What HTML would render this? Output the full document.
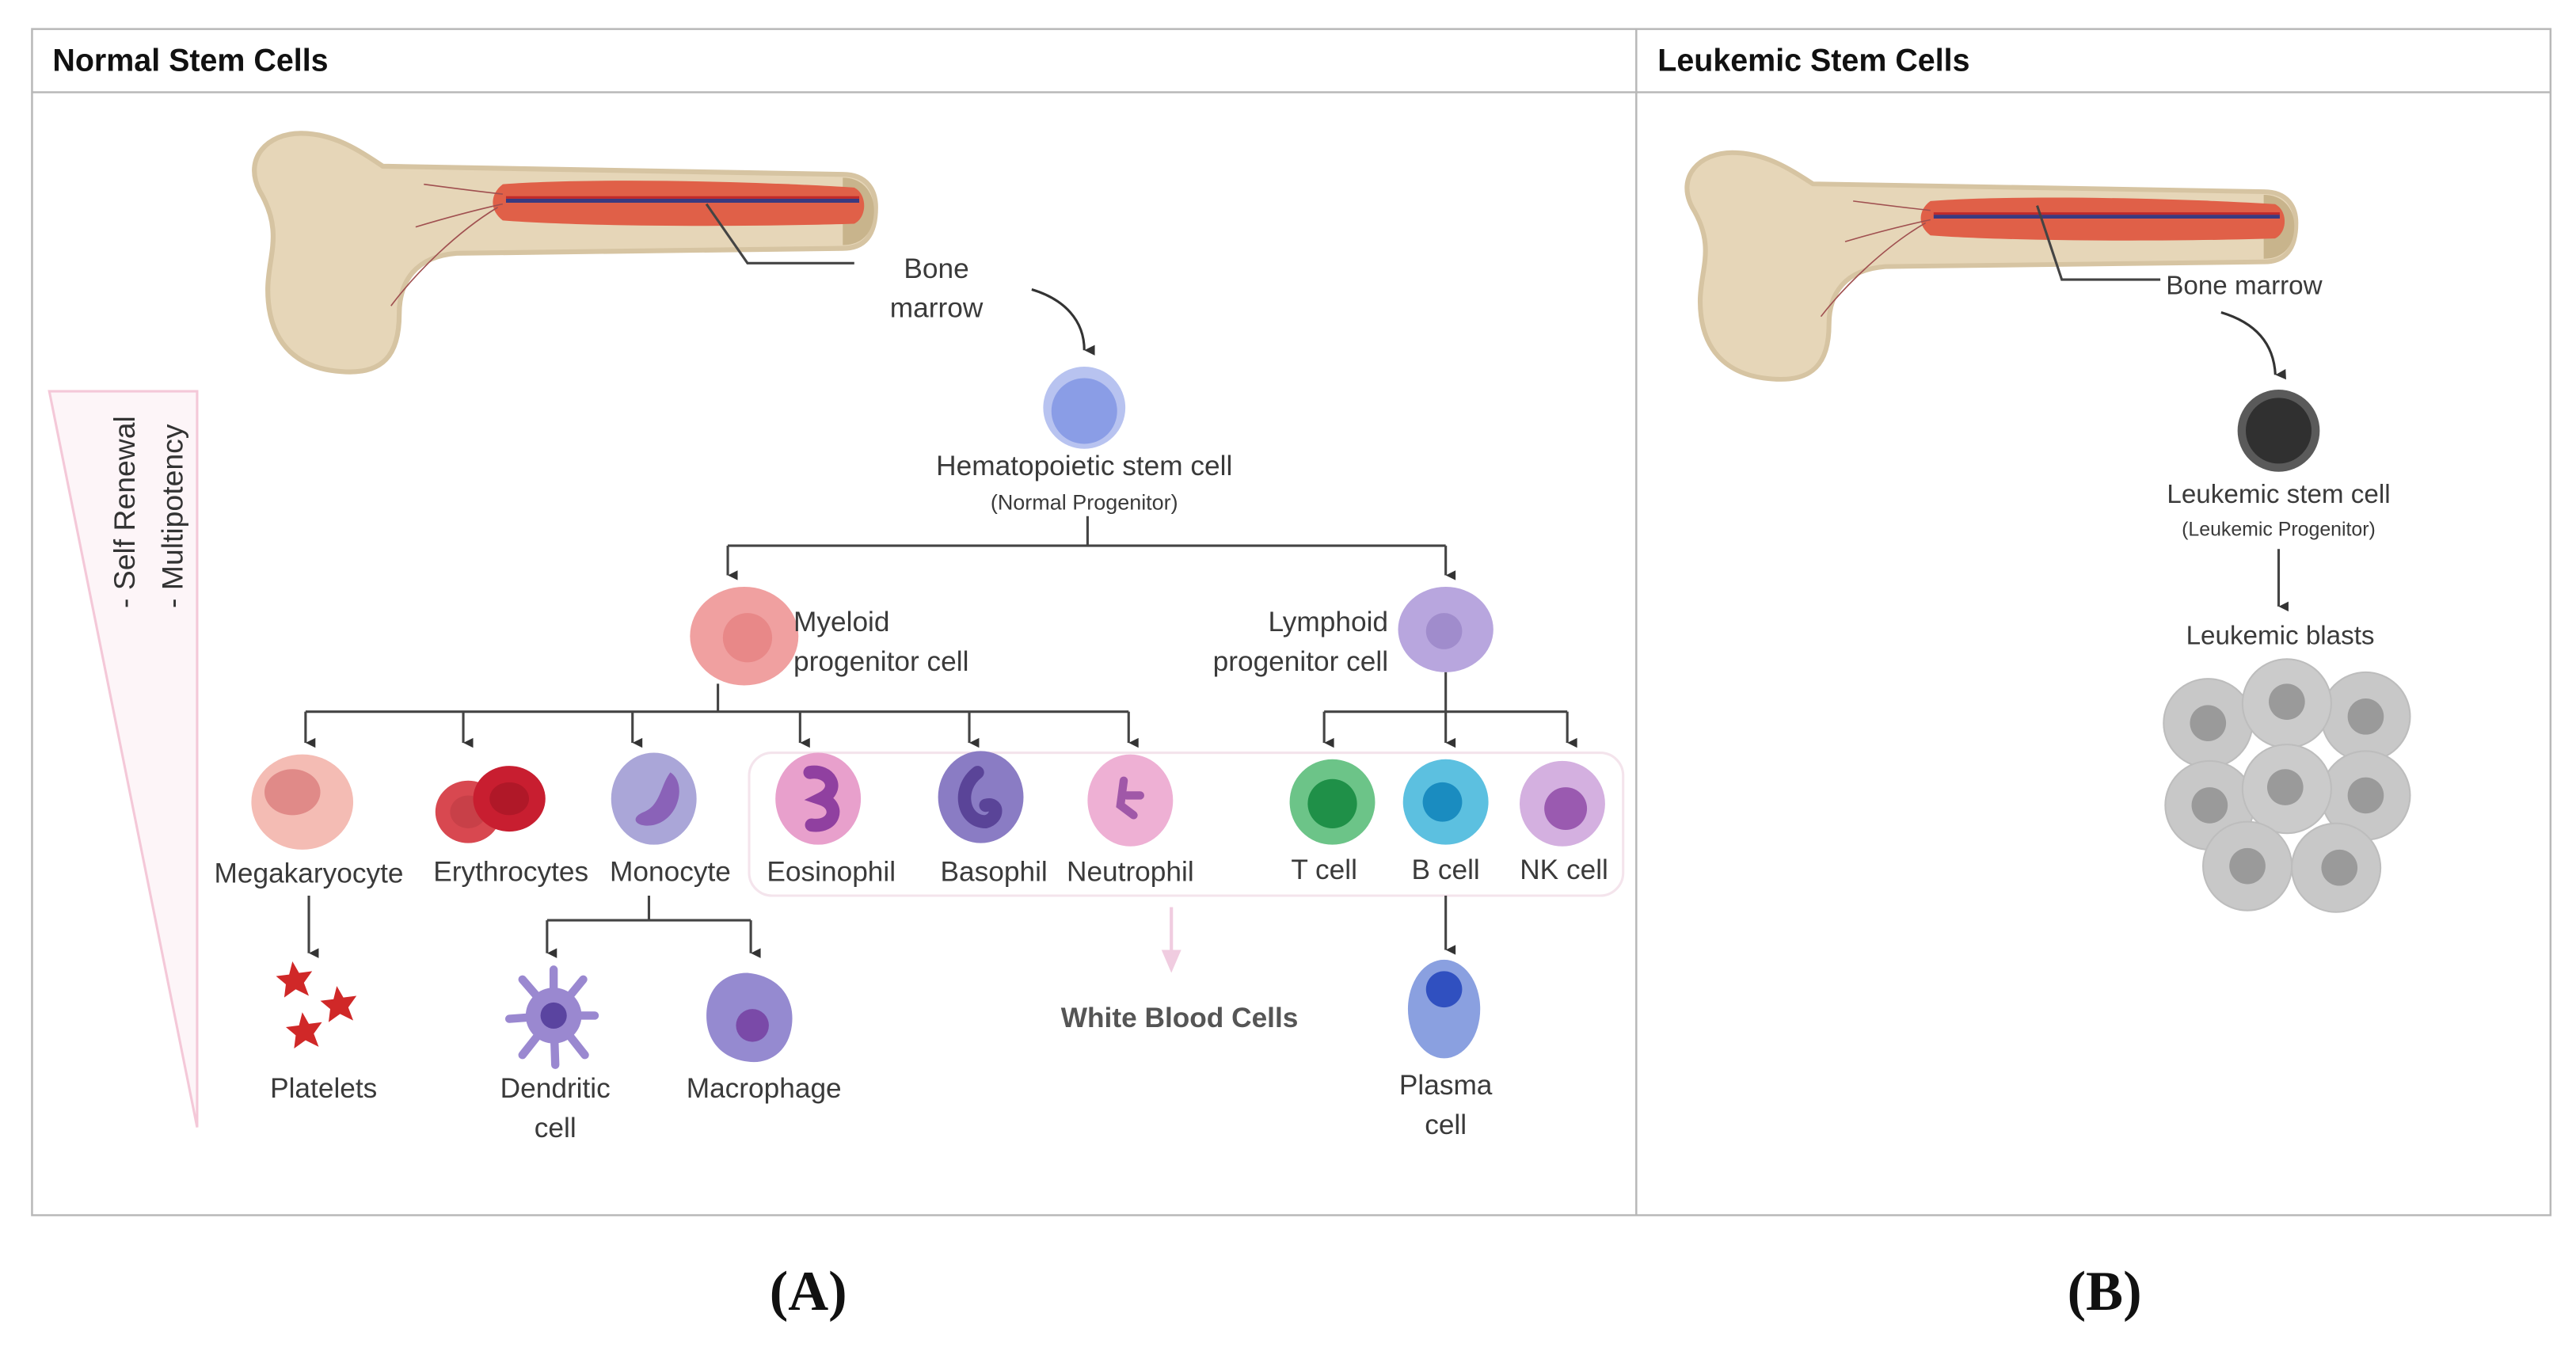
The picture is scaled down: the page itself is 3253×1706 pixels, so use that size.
<!DOCTYPE html>
<html><head><meta charset="utf-8"><style>
html,body{margin:0;padding:0;background:#fff;}
svg{display:block;}
text{font-family:"Liberation Sans",sans-serif;fill:#3a3a3a;}
</style></head><body>
<svg width="3253" height="1706" viewBox="0 0 1568 822" xmlns="http://www.w3.org/2000/svg">
<defs>
<marker id="ar" markerWidth="8" markerHeight="8" refX="4" refY="7" orient="auto" markerUnits="userSpaceOnUse"><path d="M1,1 L4,7 L7,1 Z" fill="#333"/></marker>
<marker id="ar2" viewBox="0 0 10 10" markerWidth="8" markerHeight="8" refX="5" refY="9" orient="auto-start-reverse" markerUnits="userSpaceOnUse"><path d="M1,1 L5,9 L9,1 Z" fill="#333"/></marker>
<g id="bone">
<path d="M0,40 C-10,20 5,5 25,5 C45,5 60,15 75,25 L355,30 C370,30 375,40 375,50 C375,65 370,75 355,75 L120,78 C95,80 85,95 85,115 C85,140 75,152 50,150 C20,148 5,130 5,100 C5,80 15,65 0,40 Z" fill="#e6d6b8" stroke="#d6c4a2" stroke-width="3"/>
<path d="M355,32 C368,32 374,42 374,52 C374,64 368,73 355,73 Z" fill="#c8b48c"/>
<path d="M148,36 C200,32 300,34 362,38 C370,42 370,56 362,60 C300,62 200,62 148,58 C140,52 140,42 148,36 Z" fill="#e06048"/>
<path d="M150,46 L365,46" stroke="#3a3a80" stroke-width="2.5"/>
<path d="M150,44 L365,44" stroke="#c02a2a" stroke-width="1.5"/>
<path d="M148,42 C130,40 115,38 100,36 M148,48 C130,52 115,56 95,62 M145,50 C120,65 95,90 80,110" stroke="#a05050" stroke-width="0.8" fill="none"/>
</g>
</defs>

<!-- outer frame -->
<rect x="19.5" y="17.5" width="1533" height="722" fill="none" stroke="#b8b8b8" stroke-width="1.2"/>
<line x1="19" y1="56" x2="1552" y2="56" stroke="#b8b8b8" stroke-width="1.2"/>
<line x1="996" y1="17" x2="996" y2="740" stroke="#b8b8b8" stroke-width="1.2"/>
<text x="32" y="43" font-size="19" font-weight="bold" style="fill:#111">Normal Stem Cells</text>
<text x="1009" y="43" font-size="19" font-weight="bold" style="fill:#111">Leukemic Stem Cells</text>
<text x="492" y="797" font-size="34" font-weight="bold" text-anchor="middle" style="font-family:'Liberation Serif',serif;fill:#111">(A)</text>
<text x="1281" y="797" font-size="34" font-weight="bold" text-anchor="middle" style="font-family:'Liberation Serif',serif;fill:#111">(B)</text>

<!-- Panel A bone -->
<use href="#bone" transform="translate(158,76)"/>
<polyline points="430,124 455,160 520,160" fill="none" stroke="#444" stroke-width="1.5"/>
<text x="570" y="169" font-size="17" text-anchor="middle">Bone</text>
<text x="570" y="193" font-size="17" text-anchor="middle">marrow</text>
<path d="M628,176 C648,182 660,195 660,213" fill="none" stroke="#333" stroke-width="1.5" marker-end="url(#ar2)"/>

<!-- HSC -->
<circle cx="660" cy="248" r="25" fill="#b8c3f0"/>
<circle cx="660" cy="250" r="20" fill="#8a9de6"/>
<text x="660" y="289" font-size="17" text-anchor="middle">Hematopoietic stem cell</text>
<text x="660" y="310" font-size="13" text-anchor="middle">(Normal Progenitor)</text>
<g stroke="#444" stroke-width="1.5" fill="none">
<line x1="662" y1="314" x2="662" y2="332"/>
<line x1="443" y1="332" x2="880" y2="332"/>
<line x1="443" y1="332" x2="443" y2="350" marker-end="url(#ar)"/>
<line x1="880" y1="332" x2="880" y2="350" marker-end="url(#ar)"/>
</g>

<!-- Myeloid -->
<ellipse cx="453" cy="387" rx="33" ry="30" fill="#f0a0a0"/>
<ellipse cx="455" cy="388" rx="15" ry="15" fill="#e88888"/>
<text x="483" y="384" font-size="17">Myeloid</text>
<text x="483" y="408" font-size="17">progenitor cell</text>
<!-- Lymphoid -->
<ellipse cx="880" cy="383" rx="29" ry="26" fill="#b8a6de"/>
<circle cx="879" cy="384" r="11" fill="#a08ccc"/>
<text x="845" y="384" font-size="17" text-anchor="end">Lymphoid</text>
<text x="845" y="408" font-size="17" text-anchor="end">progenitor cell</text>

<g stroke="#444" stroke-width="1.5" fill="none">
<line x1="437" y1="416" x2="437" y2="433"/>
<line x1="186" y1="433" x2="687" y2="433"/>
<line x1="186" y1="433" x2="186" y2="452" marker-end="url(#ar)"/>
<line x1="282" y1="433" x2="282" y2="452" marker-end="url(#ar)"/>
<line x1="385" y1="433" x2="385" y2="452" marker-end="url(#ar)"/>
<line x1="487" y1="433" x2="487" y2="452" marker-end="url(#ar)"/>
<line x1="590" y1="433" x2="590" y2="452" marker-end="url(#ar)"/>
<line x1="687" y1="433" x2="687" y2="452" marker-end="url(#ar)"/>
<line x1="880" y1="409" x2="880" y2="452" marker-end="url(#ar)"/>
<line x1="806" y1="433" x2="954" y2="433"/>
<line x1="806" y1="433" x2="806" y2="452" marker-end="url(#ar)"/>
<line x1="954" y1="433" x2="954" y2="452" marker-end="url(#ar)"/>
</g>

<!-- WBC box -->
<rect x="456" y="458" width="532" height="87" rx="14" fill="none" stroke="#f4e4ec" stroke-width="1.5"/>

<!-- cells row -->
<ellipse cx="184" cy="488" rx="31" ry="29" fill="#f4bcb4"/>
<ellipse cx="178" cy="482" rx="17" ry="14" fill="#e08a88"/>
<ellipse cx="285" cy="494" rx="20" ry="19" fill="#d84850"/>
<ellipse cx="285" cy="494" rx="11" ry="10" fill="#c84048"/>
<ellipse cx="310" cy="486" rx="22" ry="20" fill="#c81e30"/>
<ellipse cx="310" cy="486" rx="12" ry="10" fill="#b01828"/>
<ellipse cx="398" cy="486" rx="26" ry="28" fill="#aaa6d8"/>
<path d="M408,470 C418,476 414,498 398,502 C388,504 382,498 392,494 C402,490 402,478 408,470 Z" fill="#8a62b8"/>
<ellipse cx="498" cy="486" rx="26" ry="28" fill="#e8a0cc"/>
<path d="M493,470 C505,468 512,480 500,486 C512,490 508,504 494,502" fill="none" stroke="#9040a0" stroke-width="8" stroke-linecap="round"/>
<ellipse cx="597" cy="485" rx="26" ry="28" fill="#8a7cc4"/>
<path d="M595,470 C582,480 586,500 600,500 C608,498 608,488 600,490" fill="none" stroke="#5a4498" stroke-width="8" stroke-linecap="round"/>
<ellipse cx="688" cy="487" rx="26" ry="28" fill="#eeb0d4"/>
<path d="M684,475 L682,490 L690,496 M686,484 L694,484" fill="none" stroke="#a058a8" stroke-width="5" stroke-linecap="round"/>
<circle cx="811" cy="488" r="26" fill="#6cc488"/>
<circle cx="811" cy="489" r="15" fill="#1f9048"/>
<circle cx="880" cy="488" r="26" fill="#5cc0e0"/>
<circle cx="878" cy="488" r="12" fill="#1a8cc0"/>
<circle cx="951" cy="489" r="26" fill="#d4b0e0"/>
<circle cx="953" cy="492" r="13" fill="#9a5ab0"/>
<g font-size="17" text-anchor="middle">
<text x="188" y="537">Megakaryocyte</text>
<text x="311" y="536">Erythrocytes</text>
<text x="408" y="536">Monocyte</text>
<text x="506" y="536">Eosinophil</text>
<text x="605" y="536">Basophil</text>
<text x="688" y="536">Neutrophil</text>
<text x="806" y="535">T cell</text>
<text x="880" y="535">B cell</text>
<text x="952" y="535">NK cell</text>
</g>

<g stroke="#444" stroke-width="1.5" fill="none">
<line x1="188" y1="545" x2="188" y2="580" marker-end="url(#ar)"/>
<line x1="395" y1="545" x2="395" y2="560"/>
<line x1="333" y1="560" x2="457" y2="560"/>
<line x1="333" y1="560" x2="333" y2="580" marker-end="url(#ar)"/>
<line x1="457" y1="560" x2="457" y2="580" marker-end="url(#ar)"/>
<line x1="880" y1="545" x2="880" y2="578" marker-end="url(#ar)"/>
</g>
<line x1="713" y1="552" x2="713" y2="582" stroke="#f0cce0" stroke-width="2"/>
<path d="M707,578 L713,592 L719,578 Z" fill="#f0cce0"/>
<text x="718" y="625" font-size="17" font-weight="bold" text-anchor="middle" style="fill:#555">White Blood Cells</text>

<!-- platelets -->
<g fill="#d02828">
<polygon points="178,585 182,592 190,591 185,598 188,606 180,602 173,607 174,599 168,594 176,593"/>
<polygon points="205,600 209,607 217,606 212,613 215,621 207,617 200,622 201,614 195,609 203,608"/>
<polygon points="184,616 188,623 196,622 191,629 194,637 186,633 179,638 180,630 174,625 182,624"/>
</g>
<text x="197" y="668" font-size="17" text-anchor="middle">Platelets</text>
<!-- dendritic -->
<g stroke="#9a88d0" stroke-width="5" stroke-linecap="round">
<line x1="337" y1="618" x2="337" y2="590"/><line x1="337" y1="618" x2="355" y2="596"/>
<line x1="337" y1="618" x2="318" y2="596"/><line x1="337" y1="618" x2="362" y2="618"/>
<line x1="337" y1="618" x2="310" y2="620"/><line x1="337" y1="618" x2="356" y2="642"/>
<line x1="337" y1="618" x2="318" y2="642"/><line x1="337" y1="618" x2="338" y2="648"/>
</g>
<circle cx="337" cy="618" r="17" fill="#9a88d0"/>
<circle cx="337" cy="618" r="8" fill="#5a44a0"/>
<text x="338" y="668" font-size="17" text-anchor="middle">Dendritic</text>
<text x="338" y="692" font-size="17" text-anchor="middle">cell</text>
<!-- macrophage -->
<path d="M455,592 C475,594 484,608 482,624 C480,640 468,648 455,646 C440,644 430,634 430,618 C430,602 440,592 455,592 Z" fill="#958ad0"/>
<circle cx="458" cy="624" r="10" fill="#7a4aa8"/>
<text x="465" y="668" font-size="17" text-anchor="middle">Macrophage</text>
<!-- plasma -->
<ellipse cx="879" cy="614" rx="22" ry="30" fill="#8aa0e0"/>
<circle cx="879" cy="602" r="11" fill="#3050c0"/>
<text x="880" y="666" font-size="17" text-anchor="middle">Plasma</text>
<text x="880" y="690" font-size="17" text-anchor="middle">cell</text>

<!-- triangle -->
<polygon points="30,238 120,238 120,686" fill="#fdf5f8" stroke="#f4c8d8" stroke-width="1.5"/>
<text transform="translate(82,370) rotate(-90)" font-size="18" style="fill:#333">- Self Renewal</text>
<text transform="translate(111,370) rotate(-90)" font-size="18" style="fill:#333">- Multipotency</text>

<!-- Panel B -->
<use href="#bone" transform="translate(1030,88) scale(0.98,0.95)"/>
<polyline points="1240,125 1255,170 1315,170" fill="none" stroke="#444" stroke-width="1.5"/>
<text x="1366" y="179" font-size="16" text-anchor="middle">Bone marrow</text>
<path d="M1352,190 C1372,196 1384,208 1385,228" fill="none" stroke="#333" stroke-width="1.5" marker-end="url(#ar2)"/>
<circle cx="1387" cy="262" r="25" fill="#5a5a5a"/>
<circle cx="1387" cy="262" r="20" fill="#303030"/>
<text x="1387" y="306" font-size="16" text-anchor="middle">Leukemic stem cell</text>
<text x="1387" y="326" font-size="12" text-anchor="middle">(Leukemic Progenitor)</text>
<line x1="1387" y1="334" x2="1387" y2="369" stroke="#444" stroke-width="1.5" marker-end="url(#ar)"/>
<text x="1388" y="392" font-size="16" text-anchor="middle">Leukemic blasts</text>
<g>
<circle cx="1344" cy="440" r="27" fill="#c8c8c8" stroke="#bdbdbd"/><circle cx="1344" cy="440" r="11" fill="#9a9a9a"/>
<circle cx="1440" cy="436" r="27" fill="#c8c8c8" stroke="#bdbdbd"/><circle cx="1440" cy="436" r="11" fill="#9a9a9a"/>
<circle cx="1392" cy="428" r="27" fill="#cbcbcb" stroke="#bdbdbd"/><circle cx="1392" cy="427" r="11" fill="#9a9a9a"/>
<circle cx="1345" cy="490" r="27" fill="#c8c8c8" stroke="#bdbdbd"/><circle cx="1345" cy="490" r="11" fill="#9a9a9a"/>
<circle cx="1440" cy="484" r="27" fill="#c8c8c8" stroke="#bdbdbd"/><circle cx="1440" cy="484" r="11" fill="#9a9a9a"/>
<circle cx="1392" cy="480" r="27" fill="#cbcbcb" stroke="#bdbdbd"/><circle cx="1391" cy="479" r="11" fill="#9a9a9a"/>
<circle cx="1368" cy="527" r="27" fill="#c8c8c8" stroke="#bdbdbd"/><circle cx="1368" cy="527" r="11" fill="#9a9a9a"/>
<circle cx="1422" cy="528" r="27" fill="#c8c8c8" stroke="#bdbdbd"/><circle cx="1424" cy="528" r="11" fill="#9a9a9a"/>
</g>
</svg>
</body></html>
